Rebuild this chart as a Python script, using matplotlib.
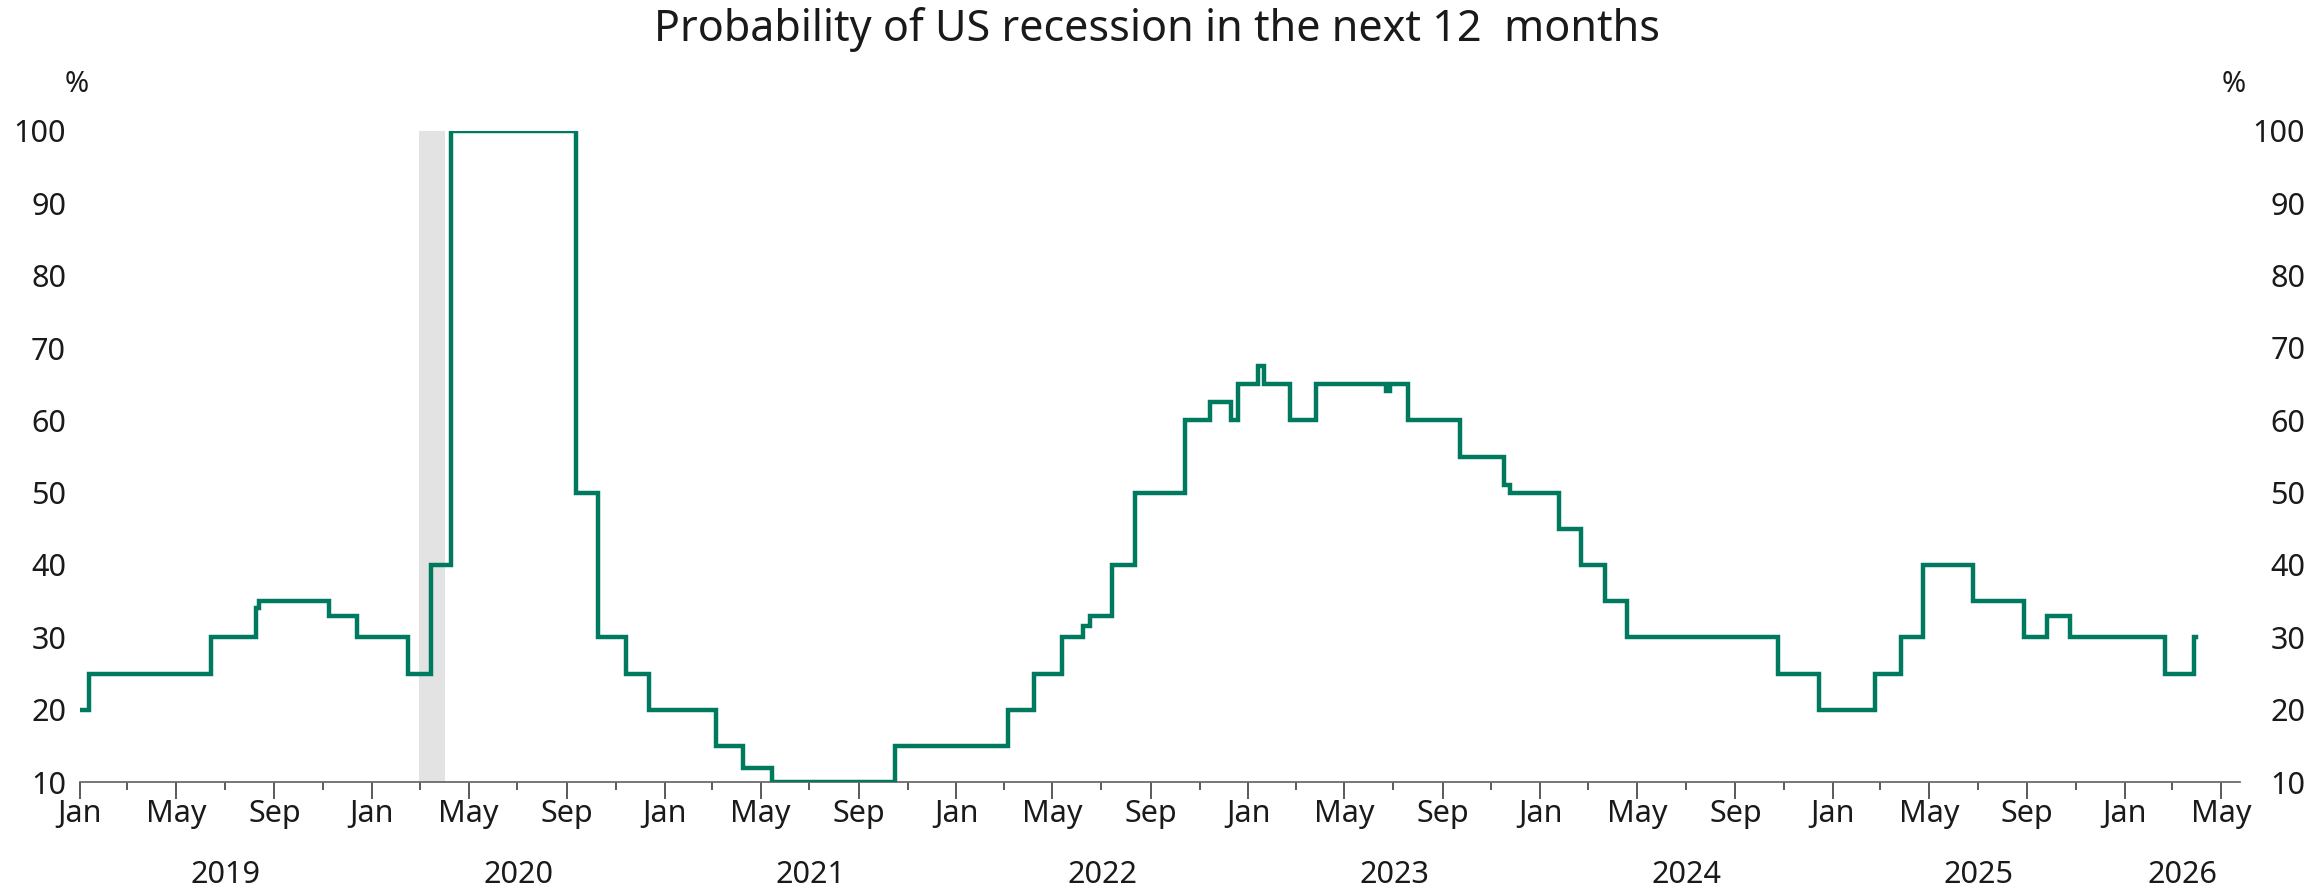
import numpy as np
import pandas as pd
import matplotlib
matplotlib.use("Agg")
import matplotlib.pyplot as plt
import matplotlib.dates as mdates
import matplotlib.transforms as mtransforms

plt.rcParams['font.family'] = ['Noto Sans', 'DejaVu Sans']

# Step dates (value holds until the next date)
dates = ["2019-01-01", "2019-01-12", "2019-06-14", "2019-08-09", "2019-08-13",
         "2019-11-08", "2019-12-14", "2020-02-15", "2020-03-15", "2020-04-09",
         "2020-09-12", "2020-10-10", "2020-11-14", "2020-12-12", "2021-03-06",
         "2021-04-09", "2021-05-15", "2021-10-16", "2022-03-07", "2022-04-08",
         "2022-05-13", "2022-06-08", "2022-06-17", "2022-07-15", "2022-08-12",
         "2022-10-14", "2022-11-14", "2022-12-10", "2022-12-19", "2023-01-13",
         "2023-01-20", "2023-02-22", "2023-03-26", "2023-06-22", "2023-06-27",
         "2023-07-19", "2023-09-23", "2023-11-17", "2023-11-24", "2024-01-24",
         "2024-02-21", "2024-03-22", "2024-04-18", "2024-10-24", "2024-12-15",
         "2025-02-22", "2025-03-27", "2025-04-24", "2025-06-25", "2025-08-28",
         "2025-09-26", "2025-10-24", "2026-02-20", "2026-03-28", "2026-03-31"]
probability = [20, 25, 30, 34, 35,
               33, 30, 25, 40, 100,
               50, 30, 25, 20, 15,
               12, 10, 15, 20, 25,
               30, 31.5, 33, 40, 50,
               60, 62.5, 60, 65, 67.5,
               65, 60, 65, 64, 65,
               60, 55, 51, 50, 45,
               40, 35, 30, 25, 20,
               25, 30, 40, 35, 30,
               33, 30, 25, 30, 30]

recession_start = "2020-02-29"
recession_end = "2020-04-02"

years = list(range(2019, 2027))
yticks = list(range(10, 101, 10))

title = "Probability of US recession in the next 12  months"

green = "#007a5e"
text_color = "#1a1a1a"

W, H = 2308, 889
fig = plt.figure(figsize=(W / 100, H / 100), dpi=100)
ax = fig.add_axes([80 / W, (H - 782) / H, (2240 - 80) / W, (782 - 131) / H])

x = pd.to_datetime(dates)
ax.step(x, probability, where='post', color=green, lw=3.2, solid_joinstyle='miter', zorder=3)
ax.axvspan(pd.Timestamp(recession_start), pd.Timestamp(recession_end),
           color="#e2e3e2", lw=0, zorder=1)

ax.set_xlim(pd.Timestamp("2019-01-01"), pd.Timestamp("2026-05-25"))
ax.set_ylim(10, 100)

for s in ['top', 'left', 'right']:
    ax.spines[s].set_visible(False)
ax.spines['bottom'].set_color("#6b6b6b")
ax.spines['bottom'].set_linewidth(1.3)

ax.set_yticks(yticks)
ax.tick_params(axis='y', length=0, pad=10, labelsize=22, labelcolor=text_color)

ax.xaxis.set_major_locator(mdates.MonthLocator(bymonth=[1, 5, 9]))
ax.xaxis.set_major_formatter(mdates.DateFormatter('%b'))
ax.xaxis.set_minor_locator(mdates.MonthLocator(bymonth=[1, 3, 5, 7, 9, 11]))
ax.tick_params(axis='x', which='both', direction='out', color="#4d4d4d", width=1.3,
               length=6, labelsize=22, labelcolor=text_color, pad=6)
for t in ax.xaxis.get_major_ticks():
    loc = mdates.num2date(t.get_loc())
    if loc.month == 1:
        t.tick1line.set_markersize(12)

ax2 = ax.twinx()
ax2.set_ylim(10, 100)
ax2.set_yticks(yticks)
for s in ['top', 'left', 'right', 'bottom']:
    ax2.spines[s].set_visible(False)
ax2.tick_params(axis='y', length=0, pad=47, labelsize=22, labelcolor=text_color)
for lab in ax2.get_yticklabels():
    lab.set_horizontalalignment('right')

# year labels centred under the visible part of each year
trans = mtransforms.blended_transform_factory(ax.transData, ax.transAxes)
xmin, xmax = ax.get_xlim()
for yr in years:
    a = max(mdates.date2num(pd.Timestamp(f"{yr}-01-01")), xmin)
    b = min(mdates.date2num(pd.Timestamp(f"{yr + 1}-01-01")), xmax)
    ax.text((a + b) / 2, -(875 - 782) / (782 - 131), str(yr), transform=trans,
            ha='center', va='center', fontsize=22, color=text_color)

fig.text(1157 / W, 1 - 30 / H, title, ha='center', va='center', fontsize=31, color=text_color)
fig.text(77 / W, 1 - 84 / H, "%", ha='center', va='center', fontsize=21, color=text_color)
fig.text(2234 / W, 1 - 84 / H, "%", ha='center', va='center', fontsize=21, color=text_color)

fig.savefig("out.png", dpi=100)
